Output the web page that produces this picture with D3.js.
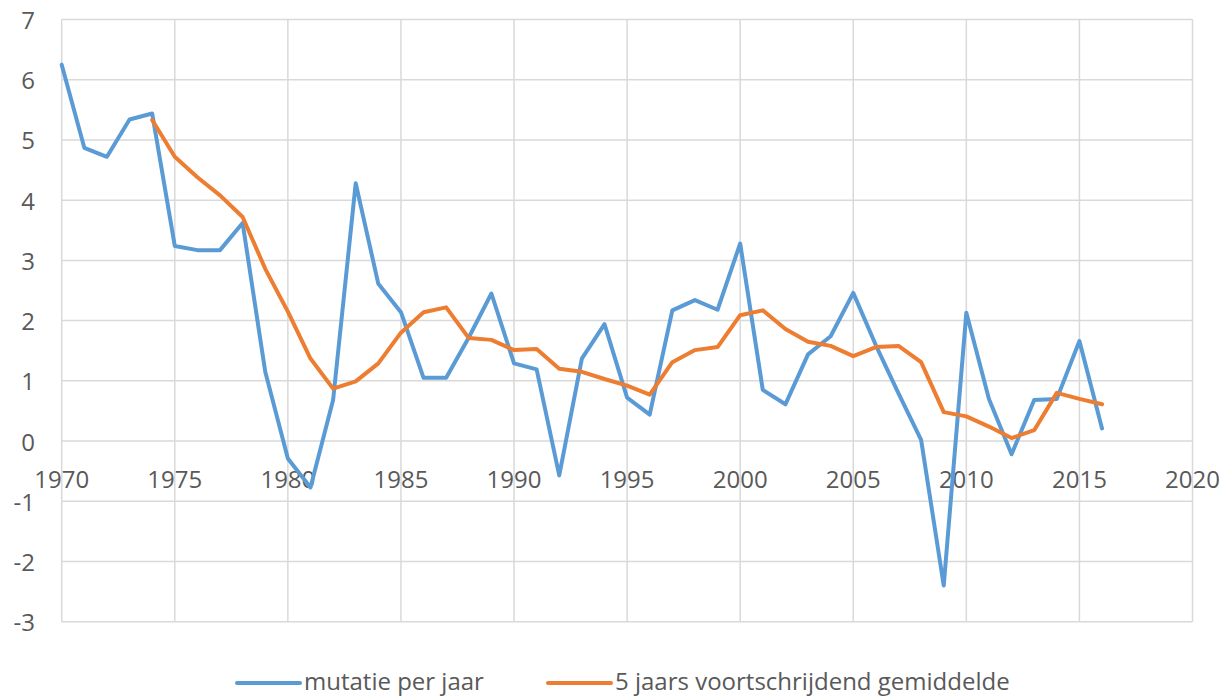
<!DOCTYPE html>
<html>
<head>
<meta charset="utf-8">
<script src="https://cdn.jsdelivr.net/npm/d3@7"></script>
<style>
  html, body { margin: 0; padding: 0; background: #fff; }
  svg { display: block; font-family: "Open Sans", "Noto Sans", sans-serif; }
</style>
</head>
<body>
<svg id="chart" width="1226" height="697"></svg>
<script>
// ---- data ----
const years = d3.range(1970, 2017);
const mutatie = [
  6.25, 4.87, 4.72, 5.34, 5.44, 3.24, 3.17, 3.17, 3.62, 1.15,
  -0.29, -0.77, 0.68, 4.28, 2.61, 2.14, 1.05, 1.05, 1.72, 2.45,
  1.29, 1.19, -0.57, 1.37, 1.94, 0.72, 0.44, 2.17, 2.34, 2.18,
  3.28, 0.85, 0.61, 1.44, 1.74, 2.46, 1.59, 0.79, 0.02, -2.40,
  2.13, 0.70, -0.22, 0.68, 0.70, 1.66, 0.21
];
const avgYears = d3.range(1974, 2017);
const gemiddelde = [
  5.33, 4.72, 4.38, 4.08, 3.72, 2.86, 2.15, 1.37, 0.87, 0.99,
  1.29, 1.80, 2.14, 2.22, 1.71, 1.68, 1.51, 1.53, 1.20, 1.15,
  1.03, 0.92, 0.77, 1.31, 1.51, 1.56, 2.09, 2.17, 1.86, 1.65,
  1.58, 1.41, 1.56, 1.58, 1.31, 0.48, 0.41, 0.24, 0.05, 0.18,
  0.80, 0.70, 0.61
];
const xTicks = [1970, 1975, 1980, 1985, 1990, 1995, 2000, 2005, 2010, 2015, 2020];
const yTicks = [-3, -2, -1, 0, 1, 2, 3, 4, 5, 6, 7];
const seriesNames = ["mutatie per jaar", "5 jaars voortschrijdend gemiddelde"];
const seriesColors = ["#5b9bd5", "#ed7d31"];

// ---- layout ----
const svg = d3.select("#chart");
const plotLeft = 61.7, plotRight = 1192.5, plotTop = 19.5, plotBottom = 621.7;
const x = d3.scaleLinear().domain([1970, 2020]).range([plotLeft, plotRight]);
const y = d3.scaleLinear().domain([-3, 7]).range([plotBottom, plotTop]);
const textColor = "#595959";
const gridColor = "#d9d9d9";

// gridlines
const grid = svg.append("g");
grid.selectAll("line.h").data(yTicks).enter().append("line")
  .attr("class", "h")
  .attr("x1", plotLeft).attr("x2", plotRight)
  .attr("y1", d => y(d)).attr("y2", d => y(d))
  .attr("stroke", gridColor).attr("stroke-width", 1.5);
grid.selectAll("line.v").data(xTicks).enter().append("line")
  .attr("class", "v")
  .attr("y1", plotTop).attr("y2", plotBottom)
  .attr("x1", d => x(d)).attr("x2", d => x(d))
  .attr("stroke", gridColor).attr("stroke-width", 1.5);

// y labels
svg.append("g").selectAll("text").data(yTicks).enter().append("text")
  .attr("x", 35).attr("y", d => y(d))
  .attr("text-anchor", "end").attr("dominant-baseline", "central")
  .attr("font-size", 24).attr("fill", textColor)
  .text(d => d);

// x labels (below zero line)
svg.append("g").selectAll("text").data(xTicks).enter().append("text")
  .attr("x", d => x(d)).attr("y", y(0) + 47)
  .attr("text-anchor", "middle")
  .attr("font-size", 24).attr("fill", textColor)
  .text(d => d);

// lines
const line = d3.line().x(d => x(d[0])).y(d => y(d[1]));
svg.append("path")
  .datum(years.map((yr, i) => [yr, mutatie[i]]))
  .attr("d", line).attr("fill", "none")
  .attr("stroke", seriesColors[0]).attr("stroke-width", 4)
  .attr("stroke-linejoin", "round").attr("stroke-linecap", "round");
svg.append("path")
  .datum(avgYears.map((yr, i) => [yr, gemiddelde[i]]))
  .attr("d", line).attr("fill", "none")
  .attr("stroke", seriesColors[1]).attr("stroke-width", 4)
  .attr("stroke-linejoin", "round").attr("stroke-linecap", "round");

// legend
const legendX = [237, 548];
const legendY = 681;
const lg = svg.append("g");
seriesNames.forEach((name, i) => {
  lg.append("line")
    .attr("x1", legendX[i]).attr("x2", legendX[i] + 63)
    .attr("y1", legendY + 2).attr("y2", legendY + 2)
    .attr("stroke", seriesColors[i]).attr("stroke-width", 4)
    .attr("stroke-linecap", "round");
  lg.append("text")
    .attr("x", legendX[i] + 67).attr("y", legendY + 9)
    .attr("font-size", 24).attr("fill", textColor)
    .text(name);
});
</script>
</body>
</html>
